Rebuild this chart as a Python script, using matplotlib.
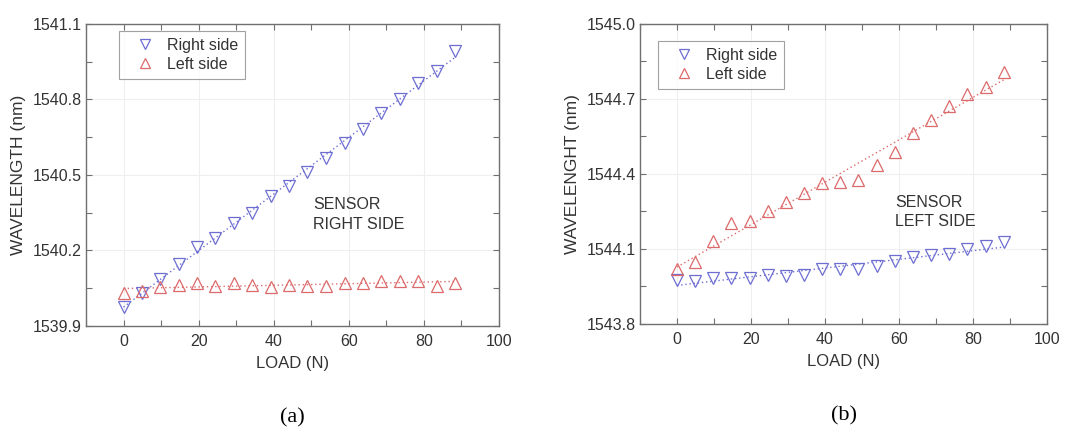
import numpy as np
import matplotlib
matplotlib.use("Agg")
import matplotlib.pyplot as plt
from matplotlib.ticker import MultipleLocator

plt.rcParams["font.family"] = ["Liberation Sans", "DejaVu Sans"]

BLUE = "#6e6ed2"
RED = "#dc6a6a"
AXIS_GRAY = "#707070"
TEXT = "#333333"

# load in N (0.5 kg steps)
load = [0, 4.9, 9.8, 14.7, 19.6, 24.5, 29.4, 34.3, 39.2, 44.1,
        49.0, 54.0, 58.9, 63.8, 68.7, 73.6, 78.5, 83.4, 88.3]

# (a) sensor on right side
a_right = [1539.976, 1540.031, 1540.087, 1540.144, 1540.214, 1540.248, 1540.310,
           1540.350, 1540.416, 1540.456, 1540.513, 1540.568, 1540.626, 1540.681,
           1540.745, 1540.800, 1540.864, 1540.914, 1540.994]
a_left = [1540.029, 1540.039, 1540.053, 1540.062, 1540.069, 1540.059, 1540.069,
          1540.062, 1540.053, 1540.062, 1540.059, 1540.059, 1540.069, 1540.069,
          1540.079, 1540.079, 1540.079, 1540.059, 1540.069]

# (b) sensor on left side
b_right = [1543.976, 1543.972, 1543.984, 1543.984, 1543.984, 1543.996, 1543.991,
           1543.996, 1544.020, 1544.020, 1544.020, 1544.032, 1544.051, 1544.068,
           1544.075, 1544.081, 1544.099, 1544.111, 1544.128]
b_left = [1544.020, 1544.047, 1544.133, 1544.203, 1544.212, 1544.253, 1544.289,
          1544.323, 1544.365, 1544.369, 1544.376, 1544.436, 1544.489, 1544.563,
          1544.616, 1544.672, 1544.719, 1544.749, 1544.809]

fig = plt.figure(figsize=(10.76, 4.29), dpi=100)
ax1 = fig.add_axes([0.0799, 0.2408, 0.3838, 0.7033])
ax2 = fig.add_axes([0.5948, 0.2448, 0.3783, 0.6993])


def draw_panel(ax, right, left, ylim, ylabel, note, note_xy, legend_anchor, tag):
    x = np.array(load)
    for y, col, mk, lab in [(right, BLUE, "v", "Right side"), (left, RED, "^", "Left side")]:
        k, b = np.polyfit(x, y, 1)
        ax.plot(x, k * x + b, ls=(0, (1, 2)), color=col, lw=1.0, zorder=2)
        ax.plot(x, y, ls="none", marker=mk, markersize=8, markerfacecolor="none",
                markeredgecolor=col, markeredgewidth=0.9, label=lab, zorder=3)
    ax.set_xlim(-10, 100)
    ax.set_ylim(*ylim)
    ax.xaxis.set_major_locator(MultipleLocator(20))
    ax.xaxis.set_minor_locator(MultipleLocator(10))
    ax.yaxis.set_major_locator(MultipleLocator(0.3))
    ax.yaxis.set_minor_locator(MultipleLocator(0.15))
    ax.yaxis.set_major_formatter(plt.FuncFormatter(lambda v, p: f"{v:.1f}"))
    ax.tick_params(which="both", direction="in", top=True, right=True,
                   length=4, width=0.8, color=AXIS_GRAY, labelsize=11.5,
                   labelcolor=TEXT)
    ax.tick_params(axis="y", pad=3)
    ax.tick_params(axis="x", pad=6)
    ax.grid(True, which="major", color="#efefef", lw=0.8)
    ax.set_axisbelow(True)
    for s in ax.spines.values():
        s.set_color(AXIS_GRAY)
        s.set_linewidth(1.0)
    ax.set_xlabel("LOAD (N)", fontsize=12, color=TEXT, labelpad=5)
    ax.set_ylabel(ylabel, fontsize=12.5, color=TEXT, labelpad=5)
    ax.text(note_xy[0], note_xy[1], note, fontsize=11.5, color=TEXT,
            va="top", ha="left", linespacing=1.35)
    leg = ax.legend(loc="upper left", bbox_to_anchor=legend_anchor, fontsize=11.5,
                    frameon=True, fancybox=False, edgecolor="#8a8a8a",
                    borderaxespad=0, handletextpad=0.15, borderpad=0.45,
                    labelspacing=0.25, handlelength=2.4, markerscale=0.85)
    leg.get_frame().set_linewidth(0.8)
    for t in leg.get_texts():
        t.set_color(TEXT)
    ax.text(0.5, -0.306, tag, transform=ax.transAxes, ha="center", va="center",
            fontsize=16, family="Liberation Serif", color="black")


draw_panel(ax1, a_right, a_left, (1539.9, 1541.1), "WAVELENGTH (nm)",
           "SENSOR\nRIGHT SIDE", (50.5, 1540.41), (0.08, 0.978), "(a)")
draw_panel(ax2, b_right, b_left, (1543.8, 1545.0), "WAVELENGHT (nm)",
           "SENSOR\nLEFT SIDE", (59, 1544.315), (0.044, 0.944), "(b)")

fig.savefig("out.png", dpi=100, facecolor="white")
